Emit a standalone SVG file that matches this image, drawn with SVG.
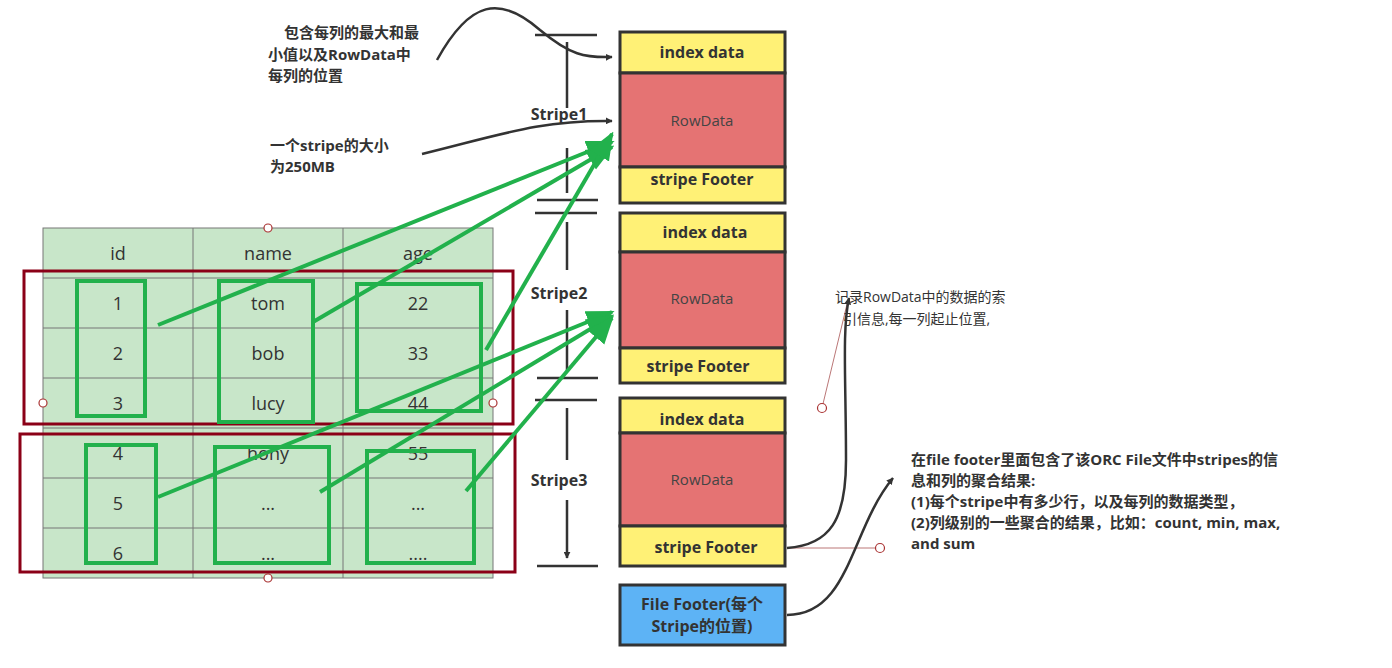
<svg xmlns="http://www.w3.org/2000/svg" width="1392" height="668" viewBox="0 0 1392 668">
<style>
text{font-family:"Open Sans","Noto Sans CJK SC",sans-serif;fill:#333}
.b{font-weight:bold;font-size:16px}
.a{font-weight:bold;font-size:15px}
.t{font-size:18px;text-anchor:middle}
.rd{font-size:15px;text-anchor:middle;fill:#444}
.lbl{font-weight:bold;font-size:16px;text-anchor:middle}
.y{fill:#FFF176;stroke:#333;stroke-width:3}
.r{fill:#E57373;stroke:#333;stroke-width:3}
.g{fill:none;stroke:#22B14C;stroke-width:4}
.red{fill:none;stroke:#8B0017;stroke-width:3}
.k{fill:none;stroke:#333;stroke-width:2.5}
.ga{stroke:#22B14C;stroke-width:4;fill:none;marker-end:url(#gm)}
.ka{stroke:#333;stroke-width:2.5;fill:none;marker-end:url(#km)}
.hc{fill:#fff;stroke:#A33;stroke-width:1.2}
</style>
<defs>
<marker id="km" viewBox="0 0 10 10" refX="9" refY="5" markerWidth="7" markerHeight="7" markerUnits="userSpaceOnUse" orient="auto"><path d="M0,0L10,5L0,10z" fill="#333"/></marker>
<marker id="gm" viewBox="0 0 10 10" refX="9" refY="5" markerWidth="7" markerHeight="7" orient="auto"><path d="M0,1L10,5L0,9z" fill="#22B14C"/></marker>
</defs>
<rect width="1392" height="668" fill="#fff"/>
<g id="table">
<rect x="43" y="228" width="450" height="350" fill="#C8E6C9" stroke="#777" stroke-width="1"/>
<path d="M193 228V578M343 228V578M43 278H493M43 328H493M43 378H493M43 428H493M43 478H493M43 528H493" stroke="#777" stroke-width="1"/>
<text class="t" x="118" y="260">id</text><text class="t" x="268" y="260">name</text><text class="t" x="418" y="260">age</text>
<text class="t" x="118" y="310">1</text><text class="t" x="268" y="310">tom</text><text class="t" x="418" y="310">22</text>
<text class="t" x="118" y="360">2</text><text class="t" x="268" y="360">bob</text><text class="t" x="418" y="360">33</text>
<text class="t" x="118" y="410">3</text><text class="t" x="268" y="410">lucy</text><text class="t" x="418" y="410">44</text>
<text class="t" x="118" y="460">4</text><text class="t" x="268" y="460">hony</text><text class="t" x="418" y="460">55</text>
<text class="t" x="118" y="510">5</text><text class="t" x="268" y="510">...</text><text class="t" x="418" y="510">...</text>
<text class="t" x="118" y="560">6</text><text class="t" x="268" y="560">...</text><text class="t" x="418" y="560">....</text>
<circle class="hc" cx="268" cy="228" r="4"/><circle class="hc" cx="268" cy="578" r="4"/><circle class="hc" cx="43" cy="403" r="4"/><circle class="hc" cx="493" cy="403" r="4"/>
</g>
<g id="groups">
<rect class="red" x="24" y="271" width="489" height="153"/>
<rect class="red" x="20" y="434" width="495" height="138"/>
<rect class="g" x="77" y="281" width="68" height="135"/>
<rect class="g" x="219" y="281" width="94" height="141"/>
<rect class="g" x="357" y="284" width="124" height="127"/>
<rect class="g" x="86" y="445" width="70" height="118"/>
<rect class="g" x="215" y="447" width="114" height="116"/>
<rect class="g" x="367" y="451" width="107" height="112"/>
</g>
<g id="stripe1">
<rect class="y" x="620" y="32" width="165" height="41"/><text class="lbl" x="702" y="58">index data</text>
<rect class="r" x="620" y="73" width="165" height="94"/><text class="rd" x="702" y="126">RowData</text>
<rect class="y" x="620" y="167" width="165" height="36"/><text class="lbl" x="702" y="185">stripe Footer</text>
</g>
<g id="stripe2">
<rect class="y" x="620" y="213" width="165" height="39"/><text class="lbl" x="705" y="238">index data</text>
<rect class="r" x="620" y="252" width="165" height="96"/><text class="rd" x="702" y="304">RowData</text>
<rect class="y" x="620" y="348" width="165" height="35"/><text class="lbl" x="698" y="372">stripe Footer</text>
</g>
<g id="stripe3">
<rect class="y" x="620" y="398" width="165" height="35"/><text class="lbl" x="702" y="425">index data</text>
<rect class="r" x="620" y="433" width="165" height="93"/><text class="rd" x="702" y="485">RowData</text>
<rect class="y" x="620" y="526" width="165" height="40"/><text class="lbl" x="706" y="553">stripe Footer</text>
</g>
<g id="filefooter">
<rect x="620" y="585" width="165" height="60" fill="#5DB3F5" stroke="#333" stroke-width="3"/>
<text class="lbl" x="702" y="610">File Footer(每个</text><text class="lbl" x="702" y="632">Stripe的位置)</text>
</g>
<g id="dims">
<path class="k" d="M535 35H597M537 200H598M535 213H597M537 378H598M535 400H597M537 566H598"/>
<path class="ka" d="M567 108V42M567 148V193M567 270V222M567 310V371M567 460V408M567 500V558"/>
<text class="lbl" x="559" y="120">Stripe1</text>
<text class="lbl" x="559" y="299">Stripe2</text>
<text class="lbl" x="559" y="486">Stripe3</text>
</g>
<g id="connectors">
<path class="ga" d="M158 325L612 142"/>
<path class="ga" d="M313 322L612 147"/>
<path class="ga" d="M486 350L612 134"/>
<path class="ga" d="M158 497L612 312"/>
<path class="ga" d="M320 492L612 316"/>
<path class="ga" d="M466 491L612 318"/>
<path class="ka" d="M437 60C470 0 500 -5 540 30C570 55 585 58 612 57"/>
<path class="ka" d="M422 154C500 135 540 120 612 121"/>
<path d="M822 408L848 300M787 548H880" stroke="#B77" stroke-width="1" fill="none"/>
<path class="ka" d="M787 548C830 545 846 520 846 460C846 380 842 330 849 298"/>
<path class="ka" d="M787 615C850 615 850 530 893 478"/>
<circle class="hc" cx="822" cy="408" r="4.5"/><circle class="hc" cx="880" cy="548" r="4.5"/>
</g>
<g id="notes">
<text class="a" x="284" y="38">包含每列的最大和最</text>
<text class="a" x="268" y="60">小值以及RowData中</text>
<text class="a" x="268" y="81">每列的位置</text>
<text class="a" x="270" y="151">一个stripe的大小</text>
<text class="a" x="270" y="172">为250MB</text>
<text x="835" y="302" font-size="14">记录RowData中的数据的索</text>
<text x="843" y="324" font-size="14">引信息,每一列起止位置,</text>
<text class="a" x="911" y="465">在file footer里面包含了该ORC File文件中stripes的信</text>
<text class="a" x="911" y="486">息和列的聚合结果:</text>
<text class="a" x="911" y="507">(1)每个stripe中有多少行，以及每列的数据类型，</text>
<text class="a" x="911" y="528">(2)列级别的一些聚合的结果，比如：count, min, max,</text>
<text class="a" x="911" y="549">and sum</text>
</g>
</svg>
